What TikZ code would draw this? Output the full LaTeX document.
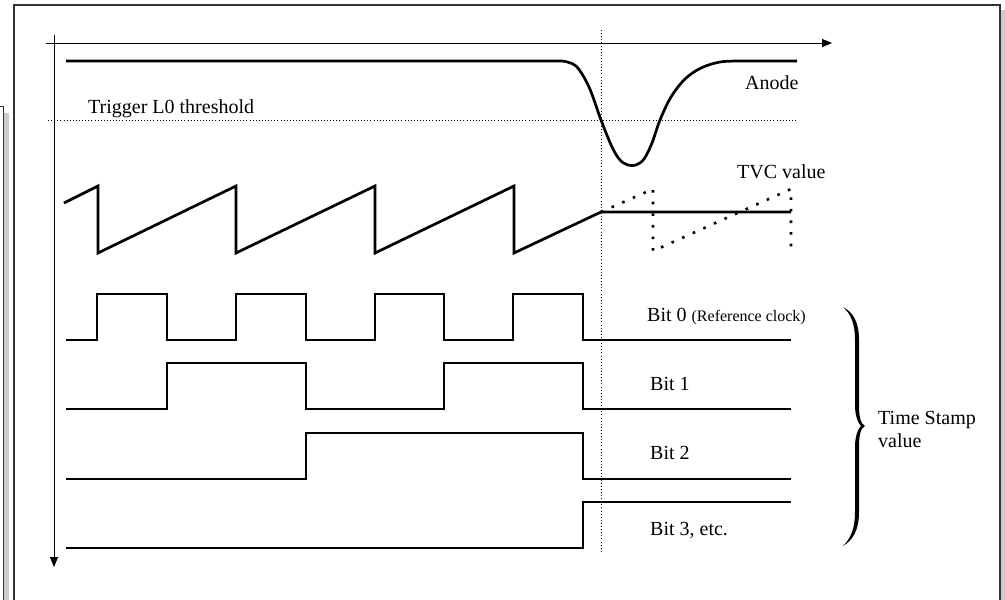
\documentclass[tikz,border=0pt]{standalone}
\usepackage{fontspec}
\setmainfont{Liberation Serif}
\usetikzlibrary{arrows.meta}
\begin{document}
\begin{tikzpicture}[x=1pt,y=-1pt,
  frame/.style={draw=black!80,line width=1.3pt},
  shadow/.style={fill=black!20,draw=none},
  axis/.style={line width=1pt,-{Triangle[length=10pt,width=8pt]}},
  sig/.style={line width=2.7pt,line join=miter},
  thin dots/.style={line width=0.9pt,dash pattern=on 0.9pt off 2.2pt},
  big dots/.style={line width=2.6pt,dash pattern=on 2.6pt off 9pt},
  lbl/.style={anchor=base west,inner sep=0pt,font=\fontsize{20}{23}\selectfont}]
\useasboundingbox (0,0) rectangle (1005,600);
% partial box at left
\fill[shadow] (3.5,113) rectangle (9,600);
\draw[black!80,line width=1pt] (0,106) -- (3,106) -- (3,600);
% main frame
\fill[shadow] (1000,10) rectangle (1005,600);
\draw[frame] (14,610) -- (14,5) -- (1000,5) -- (1000,610);
% axes
\draw[axis] (46,43) -- (832,43);
\draw[axis] (54,35) -- (54,567);
% dotted guides
\draw[thin dots] (48,120) -- (797,120);
\draw[thin dots] (601,30) -- (601,553);
% anode
\draw[sig,line join=round] (66,61) -- (562,61)
  plot[smooth,tension=0.55] coordinates {(562,61)(576,66)(589,87)(601,120)(612,147)(620,160)(628,165)(636,165)(644,159)(652,143)(660,120)(671,97)(685,79)(701,68)(720,62)(740,61)}
  -- (797,61);
% TVC
\draw[sig] (64,203) -- (98,186) -- (98,253) -- (236,186) -- (236,253) -- (375,186) -- (375,253) -- (514,186) -- (514,253) -- (601,212) -- (791,212);
\draw[big dots] (601,212) -- (653,189) -- (653,251) -- (791,189) -- (791,251);
% bits
\draw[sig] (66,340) -- (97,340) -- (97,294) -- (167,294) -- (167,340) -- (236,340) -- (236,294) -- (306,294) -- (306,340) -- (375,340) -- (375,294) -- (444,294) -- (444,340) -- (513,340) -- (513,294) -- (583,294) -- (583,340) -- (791,340);
\draw[sig] (66,409) -- (167,409) -- (167,363) -- (306,363) -- (306,409) -- (444,409) -- (444,363) -- (583,363) -- (583,409) -- (791,409);
\draw[sig] (66,479) -- (306,479) -- (306,433) -- (583,433) -- (583,479) -- (791,479);
\draw[sig] (66,548) -- (583,548) -- (583,502) -- (791,502);
% brace
\fill (843,307) .. controls (853,312) and (859,322) .. (859,340) -- (859,405)
  .. controls (859,418) and (861,424) .. (865,426)
  .. controls (861,428) and (859,434) .. (859,447) -- (859,512)
  .. controls (859,530) and (853,540) .. (843,546)
  .. controls (851,538) and (855,528) .. (855,512) -- (855,447)
  .. controls (855,436) and (858,429) .. (861,426)
  .. controls (858,423) and (855,416) .. (855,405) -- (855,340)
  .. controls (855,324) and (851,314) .. (843,307) -- cycle;
% labels
\node[lbl] (trig) at (88,113) {Trigger L0 threshold};
\node[lbl] (anode) at (745,89) {Anode};
\node[lbl] (tvc) at (737,178) {TVC value};
\node[lbl] (b0) at (647,321) {Bit 0 {\fontsize{16}{18}\selectfont (Reference clock)}};
\node[lbl] (b1) at (650,390) {Bit 1};
\node[lbl] (b2) at (650,459) {Bit 2};
\node[lbl] (b3) at (650,535) {Bit 3, etc.};
\node[lbl] (ts1) at (878,424) {Time Stamp};
\node[lbl] (ts2) at (878,447) {value};
\end{tikzpicture}
\end{document}
